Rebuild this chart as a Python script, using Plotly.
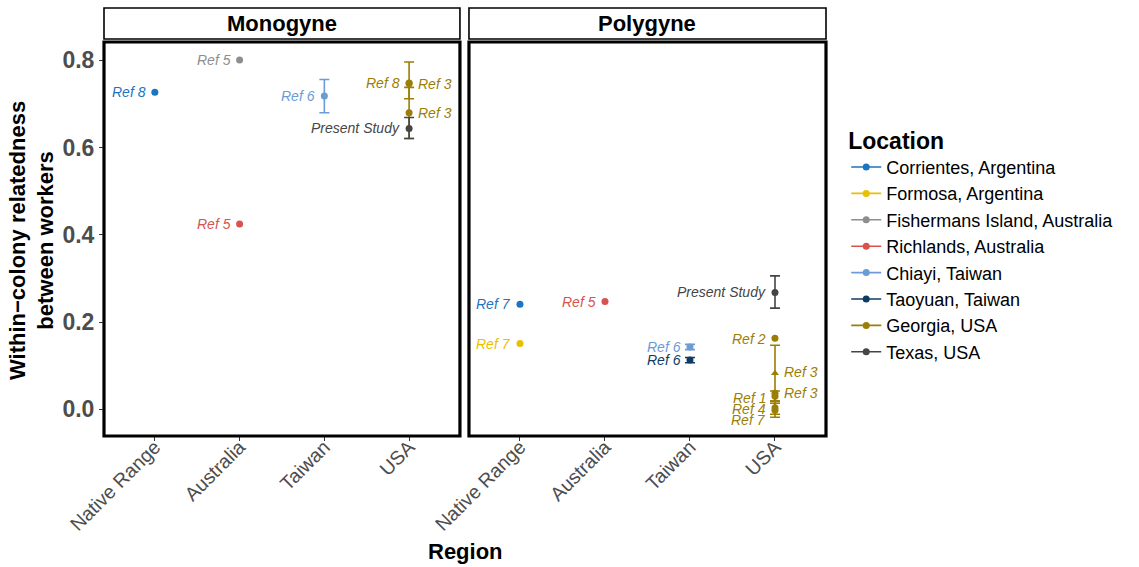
import plotly.graph_objects as go

# ---------------- data ----------------
regions = ["Native Range", "Australia", "Taiwan", "USA"]
panels = ["Monogyne", "Polygyne"]
locations = ["Corrientes, Argentina", "Formosa, Argentina", "Fishermans Island, Australia",
             "Richlands, Australia", "Chiayi, Taiwan", "Taoyuan, Taiwan",
             "Georgia, USA", "Texas, USA"]
location_colors = ["#1B75C0", "#E9C000", "#8E8E8E", "#D8534E",
                   "#6C9BD6", "#0F3B63", "#9B7E05", "#454545"]

pt_panel = ["Monogyne"] * 8 + ["Polygyne"] * 12
pt_region = ["Native Range", "Australia", "Australia", "Taiwan", "USA", "USA", "USA", "USA",
             "Native Range", "Native Range", "Australia", "Taiwan", "Taiwan",
             "USA", "USA", "USA", "USA", "USA", "USA", "USA"]
pt_location = ["Corrientes, Argentina", "Fishermans Island, Australia", "Richlands, Australia",
               "Chiayi, Taiwan", "Georgia, USA", "Georgia, USA", "Georgia, USA", "Texas, USA",
               "Corrientes, Argentina", "Formosa, Argentina", "Richlands, Australia",
               "Chiayi, Taiwan", "Taoyuan, Taiwan", "Texas, USA",
               "Georgia, USA", "Georgia, USA", "Georgia, USA", "Georgia, USA",
               "Georgia, USA", "Georgia, USA"]
pt_value = [0.727, 0.801, 0.425, 0.718, 0.747, 0.748, 0.680, 0.644,
            0.241, 0.151, 0.247, 0.143, 0.113, 0.268,
            0.163, 0.083, 0.037, 0.030, 0.004, -0.002]
pt_low = [None, None, None, 0.680, 0.712, None, 0.621, 0.621,
          None, None, None, 0.137, 0.107, 0.232,
          None, 0.019, None, 0.018, -0.011, -0.018]
pt_high = [None, None, None, 0.756, 0.796, None, 0.738, 0.669,
           None, None, None, 0.149, 0.119, 0.306,
           None, 0.147, None, 0.042, 0.019, 0.014]
pt_label = ["Ref 8", "Ref 5", "Ref 5", "Ref 6", "Ref 8", "Ref 3", "Ref 3", "Present Study",
            "Ref 7", "Ref 7", "Ref 5", "Ref 6", "Ref 6", "Present Study",
            "Ref 2", "Ref 3", "Ref 3", "Ref 1", "Ref 4", "Ref 7"]
pt_shape = ["circle"] * 15 + ["triangle-up"] + ["circle"] * 4
label_side = ["left", "left", "left", "left", "left", "right", "right", "left",
              "left", "left", "left", "left", "left", "left",
              "left", "right", "right", "left", "left", "left"]
label_y = [0.727, 0.801, 0.425, 0.718, 0.747, 0.745, 0.680, 0.644,
           0.241, 0.151, 0.247, 0.143, 0.113, 0.268,
           0.161, 0.085, 0.037, 0.025, 0.002, -0.024]

y_ticks = [0.0, 0.2, 0.4, 0.6, 0.8]
y_tick_text = ["0.0", "0.2", "0.4", "0.6", "0.8"]

# ---------------- figure ----------------
FONT = "Liberation Sans, Arial, Helvetica, sans-serif"
fig = go.Figure()
color_of = dict(zip(locations, location_colors))
legend_done = set()

for i in range(len(pt_value)):
    loc = pt_location[i]
    ax = "x" if pt_panel[i] == panels[0] else "x2"
    ay = "y" if pt_panel[i] == panels[0] else "y2"
    show = loc not in legend_done and pt_shape[i] == "circle"
    if show:
        legend_done.add(loc)
    err = None
    if pt_low[i] is not None:
        err = dict(type="data", symmetric=False,
                   array=[pt_high[i] - pt_value[i]],
                   arrayminus=[pt_value[i] - pt_low[i]],
                   color=color_of[loc], thickness=1.6, width=5)
    fig.add_trace(go.Scatter(
        x=[pt_region[i]], y=[pt_value[i]], xaxis=ax, yaxis=ay,
        mode="lines+markers", name=loc, showlegend=show,
        legendrank=locations.index(loc) + 1,
        marker=dict(color=color_of[loc], size=7, symbol=pt_shape[i]),
        line=dict(color=color_of[loc], width=1.6),
        error_y=err, hoverinfo="skip"))
    fig.add_annotation(
        x=pt_region[i], y=label_y[i], xref=ax, yref=ay,
        text=pt_label[i], showarrow=False,
        xanchor="right" if label_side[i] == "left" else "left",
        xshift=-7 if label_side[i] == "left" else 7,
        font=dict(family=FONT, size=14, color=color_of[loc], style="italic"))

for loc in locations:
    if loc not in legend_done:
        fig.add_trace(go.Scatter(x=[None], y=[None], mode="lines+markers", name=loc,
                                 legendrank=locations.index(loc) + 1,
                                 marker=dict(color=color_of[loc], size=7),
                                 line=dict(color=color_of[loc], width=1.6)))

xcommon = dict(type="category", categoryorder="array", categoryarray=regions,
               range=[-0.6, 3.6], showgrid=False, zeroline=False, showline=False,
               ticks="outside", ticklen=4, tickwidth=1, tickcolor="#333333",
               tickangle=-45, ticklabelstandoff=-13,
               tickfont=dict(family=FONT, size=19.5, color="#4D4D4D"))
ycommon = dict(range=[-0.061, 0.842], showgrid=False, zeroline=False, showline=False)

fig.update_layout(
    width=1139, height=567,
    margin=dict(l=104, r=313, t=42, b=131, autoexpand=False),
    paper_bgcolor="white", plot_bgcolor="white",
    xaxis=dict(domain=[0, 0.493], **xcommon),
    xaxis2=dict(domain=[0.5055, 1], **xcommon),
    yaxis=dict(tickvals=y_ticks, ticktext=y_tick_text, ticks="outside", ticklen=4,
               tickcolor="#333333",
               tickfont=dict(family=FONT, size=23, color="#4D4D4D", weight="bold"),
               **ycommon),
    yaxis2=dict(anchor="x2", matches="y", showticklabels=False, ticks="", **ycommon),
    legend=dict(x=1.028, y=0.485, xanchor="left", yanchor="middle",
                title=dict(text="Location", font=dict(family=FONT, size=23, color="black", weight="bold")),
                font=dict(family=FONT, size=18, color="black"),
                tracegroupgap=0, itemwidth=30, bgcolor="rgba(0,0,0,0)"),
    showlegend=True,
)

for xr, yr, title in [("x domain", "y domain", panels[0]), ("x2 domain", "y2 domain", panels[1])]:
    fig.add_shape(type="rect", xref=xr, yref=yr, x0=0, x1=1, y0=0, y1=1,
                  line=dict(color="black", width=3.2), fillcolor="rgba(0,0,0,0)", layer="above")
    fig.add_shape(type="rect", xref=xr, yref=yr, x0=0, x1=1, y0=1 + 3 / 394, y1=1 + 34 / 394,
                  line=dict(color="black", width=1.6), fillcolor="white")
    fig.add_annotation(xref=xr, yref=yr, x=0.5, y=1 + 18.5 / 394, text=title, showarrow=False,
                       xanchor="center", yanchor="middle",
                       font=dict(family=FONT, size=22, color="black", weight="bold"))

fig.add_annotation(xref="paper", yref="paper", x=-0.1, y=0.497,
                   text="Within\u2212colony relatedness<br>between workers", showarrow=False,
                   textangle=-90, xanchor="center", yanchor="middle",
                   font=dict(family=FONT, size=22, color="black", weight="bold"))
fig.add_annotation(xref="paper", yref="paper", x=0.5, y=-0.292, text="Region", showarrow=False,
                   xanchor="center", yanchor="middle",
                   font=dict(family=FONT, size=22, color="black", weight="bold"))

fig.write_html("out.html")
